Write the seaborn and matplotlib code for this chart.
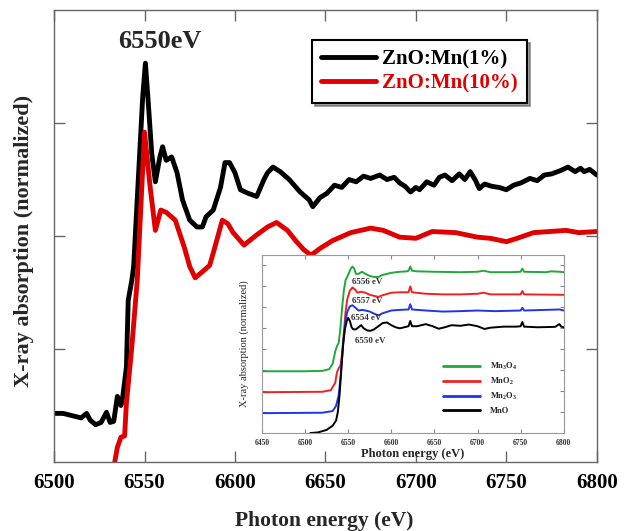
import numpy as np
import pandas as pd
import matplotlib
matplotlib.use("Agg")
import matplotlib.pyplot as plt
import seaborn as sns

# main spectra (ZnO:Mn)
x_1pct = [6500, 6505, 6510, 6515, 6518, 6520, 6523, 6526, 6529, 6531, 6533, 6535,
          6537, 6538, 6540, 6541, 6543, 6544, 6549, 6550.5, 6552, 6554, 6556, 6558.5,
          6560, 6562, 6565, 6568, 6571, 6575, 6579, 6582, 6584, 6588, 6592, 6594.5,
          6597, 6600, 6603, 6607, 6612, 6616, 6618, 6621, 6625, 6630, 6636, 6641,
          6643, 6647, 6651, 6655, 6659, 6663, 6667, 6671, 6675, 6680, 6684, 6688,
          6691, 6694, 6697, 6700, 6702, 6706, 6710, 6713, 6716, 6720, 6724, 6727,
          6730, 6733, 6735, 6738, 6742, 6746, 6750, 6754, 6758, 6763, 6767, 6771,
          6775, 6780, 6784, 6788, 6791, 6793, 6796, 6800]
y_1pct = [0.43, 0.43, 0.41, 0.39, 0.43, 0.37, 0.33, 0.35, 0.44, 0.35, 0.36, 0.58,
          0.50, 0.58, 0.84, 1.43, 1.61, 1.73, 3.23, 3.53, 3.20, 2.73, 2.48, 2.70,
          2.79, 2.67, 2.70, 2.56, 2.32, 2.14, 2.08, 2.08, 2.17, 2.23, 2.43, 2.65,
          2.65, 2.56, 2.41, 2.38, 2.35, 2.50, 2.56, 2.61, 2.57, 2.50, 2.39, 2.32,
          2.26, 2.34, 2.38, 2.45, 2.43, 2.50, 2.48, 2.53, 2.51, 2.54, 2.50, 2.52,
          2.47, 2.44, 2.39, 2.43, 2.41, 2.48, 2.45, 2.52, 2.54, 2.49, 2.55, 2.50,
          2.57, 2.49, 2.42, 2.46, 2.44, 2.43, 2.41, 2.45, 2.47, 2.51, 2.49, 2.54,
          2.55, 2.58, 2.61, 2.57, 2.60, 2.57, 2.59, 2.54]

x_10pct = [6533, 6535, 6537, 6539, 6540, 6543, 6546, 6550, 6553, 6556, 6559, 6562,
           6567, 6572, 6575, 6578, 6581, 6586, 6588, 6593, 6596, 6599, 6605, 6612,
           6618, 6623, 6629, 6634, 6638, 6642, 6647, 6654, 6664, 6675, 6682, 6691,
           6700, 6709, 6722, 6734, 6741, 6750, 6756, 6765, 6774, 6783, 6790, 6800]
y_10pct = [-0.05, 0.13, 0.22, 0.23, 0.52, 1.02, 1.61, 2.92, 2.45, 2.05, 2.23, 2.21,
           2.14, 1.90, 1.73, 1.63, 1.67, 1.74, 1.85, 2.14, 2.11, 2.03, 1.92, 2.01,
           2.08, 2.12, 2.05, 1.95, 1.88, 1.83, 1.89, 1.96, 2.03, 2.07, 2.05, 1.99,
           1.98, 2.04, 2.03, 1.99, 1.98, 1.95, 1.98, 2.03, 2.04, 2.05, 2.03, 2.04]

# inset reference spectra
x_mn3o4 = [6450, 6500, 6520, 6528, 6532, 6535, 6537, 6539, 6541, 6543, 6545, 6547,
           6550, 6553, 6555, 6557, 6559, 6562, 6566, 6570, 6575, 6580, 6585, 6590,
           6600, 6610, 6618, 6620, 6622, 6624, 6630, 6650, 6680, 6700, 6707, 6715,
           6740, 6750, 6752, 6754, 6780, 6785, 6795, 6800]
y_mn3o4 = [2.95, 2.95, 2.97, 3.05, 3.3, 3.9, 4.15, 4.3, 5.0, 6.0, 6.8, 7.3,
           7.55, 7.85, 7.95, 7.85, 7.6, 7.6, 7.7, 7.6, 7.5, 7.45, 7.45, 7.55,
           7.65, 7.7, 7.72, 7.75, 7.95, 7.75, 7.72, 7.7, 7.68, 7.7, 7.75, 7.68,
           7.68, 7.7, 7.85, 7.7, 7.68, 7.72, 7.7, 7.68]
x_mno2 = [6450, 6520, 6530, 6535, 6537, 6539, 6541, 6543, 6545, 6547, 6549, 6552,
          6555, 6558, 6561, 6565, 6570, 6575, 6580, 6585, 6590, 6600, 6610, 6620,
          6622, 6624, 6640, 6660, 6680, 6700, 6707, 6715, 6750, 6752, 6754, 6800]
y_mno2 = [1.95, 1.97, 2.05, 2.4, 2.9, 3.1, 3.2, 3.8, 4.8, 5.8, 6.4, 6.8,
          6.95, 6.85, 6.7, 6.75, 6.7, 6.6, 6.55, 6.5, 6.58, 6.7, 6.72, 6.72,
          7.0, 6.72, 6.65, 6.62, 6.62, 6.65, 6.7, 6.62, 6.62, 6.78, 6.62, 6.6]
x_mn2o3 = [6450, 6520, 6532, 6536, 6539, 6541, 6543, 6545, 6547, 6549, 6552, 6555,
           6558, 6562, 6566, 6570, 6575, 6580, 6585, 6590, 6600, 6610, 6620, 6622,
           6624, 6640, 6660, 6680, 6700, 6720, 6750, 6752, 6754, 6795, 6800]
y_mn2o3 = [0.95, 0.97, 1.05, 1.3, 1.8, 2.6, 3.6, 4.6, 5.4, 5.8, 6.05, 6.1,
           6.0, 5.85, 5.88, 5.85, 5.8, 5.7, 5.62, 5.72, 5.85, 5.88, 5.9, 6.15,
           5.9, 5.85, 5.8, 5.82, 5.85, 5.82, 5.85, 5.98, 5.85, 5.9, 5.85]
x_mno = [6506, 6515, 6525, 6532, 6536, 6538, 6540, 6542, 6544, 6546, 6548, 6550,
         6552, 6554, 6556, 6559, 6562, 6565, 6568, 6572, 6576, 6580, 6585, 6590,
         6595, 6600, 6605, 6610, 6615, 6620, 6622, 6624, 6630, 6640, 6648, 6655,
         6662, 6670, 6680, 6690, 6700, 6708, 6715, 6730, 6745, 6750, 6752, 6754,
         6770, 6790, 6795, 6797, 6800]
y_mno = [0.0, 0.03, 0.15, 0.35, 0.6, 1.0, 1.8, 3.0, 4.2, 4.9, 5.3, 5.5,
         5.35, 5.05, 4.95, 4.95, 5.05, 5.15, 5.0, 4.9, 4.88, 4.95, 5.1, 5.25,
         5.28, 5.15, 5.05, 5.0, 5.05, 5.1, 5.35, 5.1, 5.1, 5.2, 5.1, 4.98,
         5.05, 5.15, 5.12, 5.18, 5.1, 4.97, 5.03, 5.08, 5.08, 5.1, 5.3, 5.08,
         5.05, 5.07, 5.2, 5.08, 5.05]

peak_labels = ["6556 eV", "6557 eV", "6554 eV", "6550 eV"]
peak_x = [6555, 6555, 6553, 6558]
peak_y = [7.2, 6.3, 5.5, 4.4]

main_ticks = [6500, 6550, 6600, 6650, 6700, 6750, 6800]
inset_ticks = [6450, 6500, 6550, 6600, 6650, 6700, 6750, 6800]

sns.set_style("ticks")
plt.rcParams["font.family"] = ["Liberation Serif", "DejaVu Serif"]
plt.rcParams["mathtext.fontset"] = "custom"
plt.rcParams["mathtext.rm"] = "Liberation Serif:bold"
plt.rcParams["mathtext.it"] = "Liberation Serif:bold"
plt.rcParams["mathtext.bf"] = "Liberation Serif:bold"

fig = plt.figure(figsize=(6.29, 5.31), dpi=100)
ax = fig.add_axes([0.0859, 0.130, 0.863, 0.851])

frame = "#666666"
sns.lineplot(x=x_1pct, y=y_1pct, ax=ax, color="black", lw=3.5, label="ZnO:Mn(1%)")
sns.lineplot(x=x_10pct, y=y_10pct, ax=ax, color="#e00000", lw=3.5, label="ZnO:Mn(10%)")
ax.set_xlim(6500, 6800)
ax.set_ylim(0, 4)
ax.set_xticks(main_ticks)
ax.set_yticks([1, 2, 3])
ax.set_yticklabels([])
ax.tick_params(direction="in", length=8, width=1, colors=frame, top=True, right=True,
               labelsize=15, labelcolor="black", pad=8)
for lab in ax.get_xticklabels():
    lab.set_fontweight("bold")
for s in ax.spines.values():
    s.set_color(frame)
    s.set_linewidth(1)
ax.set_xlabel("Photon energy (eV)", fontsize=15.5, fontweight="bold")
ax.xaxis.set_label_coords(0.497, -0.108)
ax.set_ylabel("X-ray absorption (normalized)", fontsize=16, fontweight="bold",
              va="center")
ax.yaxis.set_label_coords(-0.056, 0.489)
ax.text(6558.6, 3.72, "6550eV", fontsize=19, fontweight="bold", ha="center", va="center")

leg = ax.legend(loc="upper right", bbox_to_anchor=(0.871, 0.934), borderaxespad=0,
                fancybox=False, shadow=True, handlelength=2.6,
                prop={"weight": "bold", "size": 15}, labelspacing=0.2,
                handletextpad=0.3, borderpad=0.45)
leg.get_frame().set_edgecolor("black")
leg.get_frame().set_linewidth(1.5)
for txt, c in zip(leg.get_texts(), ["black", "#e00000"]):
    txt.set_color(c)

# inset
ins = ax.inset_axes([0.383, 0.064, 0.556, 0.394])
ins.set_facecolor("white")
ins.set_zorder(5)
inset_series = [
    (x_mn3o4, y_mn3o4, "#22a83a", r"Mn$_3$O$_4$"),
    (x_mno2, y_mno2, "#ee2222", r"MnO$_2$"),
    (x_mn2o3, y_mn2o3, "#2233ee", r"Mn$_2$O$_3$"),
    (x_mno, y_mno, "black", "MnO"),
]
for xs, ys, c, lab in inset_series:
    sns.lineplot(x=xs, y=ys, ax=ins, color=c, lw=1.4, label=lab)
for lab, px, py in zip(peak_labels, peak_x, peak_y):
    ins.text(px, py, lab, fontsize=6.5, fontweight="bold", color="#333333",
             ha="left", va="center")
ins.set_xlim(6450, 6800)
ins.set_ylim(0, 8.5)
ins.set_xticks(inset_ticks)
ins.set_yticks(range(1, 9))
ins.set_yticklabels([])
ins.tick_params(direction="in", length=3, width=0.8, colors="#888888", top=True,
                right=True, labelsize=5.5, labelcolor="#333333", pad=4)
for lab in ins.get_xticklabels():
    lab.set_fontweight("bold")
for s in ins.spines.values():
    s.set_color("#999999")
    s.set_linewidth(0.8)
ins.set_xlabel("Photon energy (eV)", fontsize=9, fontweight="bold", labelpad=1)
ins.set_ylabel("X-ray absorption (normalized)", fontsize=7.5, labelpad=5)
il = ins.legend(loc="upper left", bbox_to_anchor=(0.575, 0.45), frameon=False,
                prop={"weight": "bold", "size": 6}, handlelength=4.4,
                labelspacing=0.5, handletextpad=1.2)
for line in il.get_lines():
    line.set_linewidth(2)

fig.savefig("out.png", dpi=100)
